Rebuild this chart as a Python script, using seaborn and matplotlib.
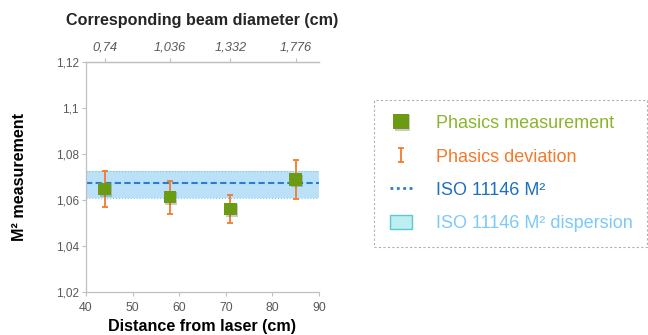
import numpy as np
import pandas as pd
import seaborn as sns
import matplotlib.pyplot as plt
import matplotlib.patheffects as pe
from matplotlib.lines import Line2D
from matplotlib.patches import Patch, Rectangle
from matplotlib.legend_handler import HandlerErrorbar

# data
distance_cm = [44, 58, 71, 85]
m2_measured = [1.0647, 1.0613, 1.0560, 1.0689]
m2_err_up = [0.0080, 0.0071, 0.0063, 0.0084]
m2_err_down = [0.0078, 0.0072, 0.0061, 0.0083]
beam_diameter = ["0,74", "1,036", "1,332", "1,776"]
iso_m2 = 1.0672
iso_low = 1.0610
iso_high = 1.0727
y_ticks = [1.02, 1.04, 1.06, 1.08, 1.10, 1.12]
y_ticklabels = ["1,02", "1,04", "1,06", "1,08", "1,1", "1,12"]
x_ticks = [40, 50, 60, 70, 80, 90]

GREEN = "#6a9b12"
ORANGE = "#f4792b"
BLUE = "#2a7dc8"
BAND = "#aedcf7"
GRAY = "#bfbfbf"
TXT = "#595959"

sns.set_theme(style="white")
plt.rcParams["font.family"] = ["Liberation Sans", "DejaVu Sans"]

df = pd.DataFrame({"distance": distance_cm, "m2": m2_measured})


def shadow():
    return [pe.SimplePatchShadow(offset=(1.0, -1.0), shadow_rgbFace="#555555", alpha=0.3), pe.Normal()]


fig = plt.figure(figsize=(6.48, 3.35), dpi=100)
ax = fig.add_axes([0.1327, 0.1284, 0.3596, 0.6866])

ax.axhspan(iso_low, iso_high, color=BAND, alpha=0.85, lw=0, zorder=1)
ax.axhline(iso_high, color="#7cc4f0", lw=0.8, ls=":", zorder=1)
ax.axhline(iso_low, color="#7cc4f0", lw=0.8, ls=":", zorder=1)
ax.axhline(iso_m2, color=BLUE, lw=1.5, ls=(0, (3, 1.6)), zorder=2)

eb = ax.errorbar(distance_cm, m2_measured, yerr=[m2_err_down, m2_err_up], fmt="none",
                 ecolor=ORANGE, elinewidth=1.3, capsize=2.5, capthick=1.3, zorder=3)

n_before = len(ax.collections)
sns.scatterplot(data=df, x="distance", y="m2", marker="s", s=80, color=GREEN,
                edgecolor="none", linewidth=0, zorder=4, ax=ax, legend=False)
for coll in ax.collections[n_before:]:
    coll.set_path_effects(shadow())

ax.set_xlim(40, 90)
ax.set_ylim(1.02, 1.12)
ax.set_xticks(x_ticks)
ax.set_xticklabels([str(v) for v in x_ticks], fontsize=8.8, color=TXT)
ax.set_yticks(y_ticks)
ax.set_yticklabels(y_ticklabels, fontsize=8.5, color=TXT)
ax.tick_params(axis="both", length=3, width=0.8, color=GRAY, pad=2, bottom=True, left=True)
ax.tick_params(axis="x", pad=4)
ax.set_xlabel("Distance from laser (cm)", fontsize=11.6, fontweight="bold", color="black", labelpad=4)
ax.set_ylabel("M² measurement", fontsize=11.6, fontweight="bold", color="black", labelpad=21)
for side in ["left", "bottom", "top"]:
    ax.spines[side].set_color(GRAY)
    ax.spines[side].set_linewidth(0.9)
ax.spines["right"].set_visible(False)

top = ax.twiny()
top.set_xlim(ax.get_xlim())
top.set_xticks(distance_cm)
top.set_xticklabels(beam_diameter, fontsize=9.3, style="italic", color=TXT)
top.tick_params(axis="x", length=3, width=0.8, color=GRAY, pad=3, top=True)
top.set_xlabel("Corresponding beam diameter (cm)", fontsize=11.6, fontweight="bold", labelpad=12)
for side in ["left", "bottom", "right"]:
    top.spines[side].set_visible(False)
top.spines["top"].set_color(GRAY)
top.spines["top"].set_linewidth(0.9)

# legend panel
fig.add_artist(Rectangle((0.577, 0.2636), 0.421, 0.438, transform=fig.transFigure,
                         fill=False, edgecolor="#b0b0b0", lw=0.8, ls=(0, (2, 2))))
handles = [
    Line2D([], [], ls="none", marker="s", markersize=11, color=GREEN, markeredgewidth=0,
           path_effects=shadow()),
    eb,
    Line2D([], [], color=BLUE, lw=2, ls=(0, (1, 1.3))),
    Patch(facecolor="#bdeef0", edgecolor="#5cc9d0", lw=1),
]
labels = ["Phasics measurement", "Phasics deviation", "ISO 11146 M²", "ISO 11146 M² dispersion"]
leg = fig.legend(handles, labels, loc="upper left", bbox_to_anchor=(0.6019, 0.657),
                 frameon=False, fontsize=13, labelspacing=0.88, handlelength=1.22,
                 handleheight=0.85, handletextpad=1.33, borderpad=0, borderaxespad=0,
                 handler_map={eb: HandlerErrorbar(yerr_size=0.38)},
                 labelcolor=["#8ab52a", ORANGE, "#1f6fbf", "#7ccaf5"])

fig.savefig("out.png", dpi=100)
